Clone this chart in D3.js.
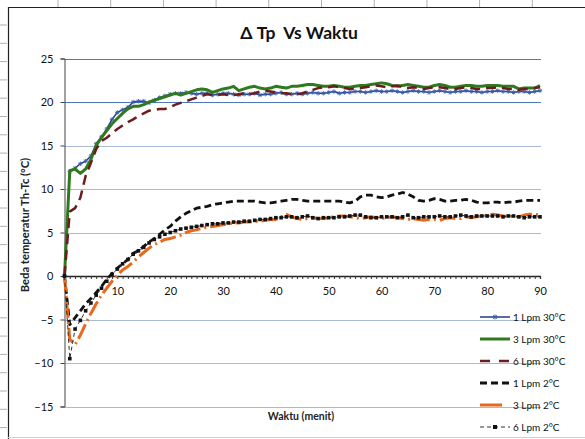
<!DOCTYPE html>
<html><head><meta charset="utf-8">
<script src="https://cdn.jsdelivr.net/npm/d3@7"></script>
<style>html,body{margin:0;padding:0;background:#fff;}svg{display:block;}</style>
</head><body>
<svg id="c" width="585" height="439"></svg>
<script>
// ---- data ----
const waktu = d3.range(0, 91, 1); // minutes
const lpm1_30 = [0,12.0,12.4,12.9,13.2,13.8,15.2,16.0,16.9,18.0,18.8,19.1,19.4,20.0,20.1,20.1,19.9,20.2,20.5,20.7,20.9,21.0,21.0,21.1,21.0,20.9,21.0,21.0,20.8,20.9,21.0,21.0,20.9,20.8,20.9,20.9,21.0,20.8,20.9,20.9,21.0,21.1,20.9,20.9,21.0,20.9,21.0,21.1,21.0,21.0,21.1,21.2,21.0,21.1,21.1,21.2,21.2,21.1,21.2,21.3,21.2,21.2,21.3,21.2,21.1,21.2,21.3,21.2,21.2,21.1,21.2,21.3,21.2,21.1,21.2,21.2,21.3,21.2,21.2,21.1,21.2,21.2,21.3,21.2,21.2,21.1,21.2,21.2,21.1,21.2,21.3];
const lpm3_30 = [0,12.1,12.3,11.8,12.3,13.4,15.0,15.9,16.7,17.5,18.1,18.7,19.2,19.5,19.5,19.7,20.0,20.2,20.4,20.6,20.8,21.0,20.8,21.0,21.2,21.4,21.5,21.4,21.1,21.3,21.5,21.6,21.8,21.3,21.5,21.7,21.8,21.6,21.5,21.6,21.8,21.7,21.6,21.8,21.8,21.9,22.0,22.0,21.9,21.8,21.8,21.9,21.8,21.7,21.7,21.8,21.9,21.9,22.0,22.1,22.2,22.1,21.9,21.8,21.9,22.0,21.9,21.8,21.7,21.7,21.9,22.0,21.9,21.7,21.7,21.8,21.9,21.9,21.8,21.8,21.9,21.9,21.9,21.8,21.8,21.8,21.5,21.6,21.6,21.6,21.9];
const lpm6_30 = [0,7.4,7.8,9.0,11.5,13.0,14.6,15.5,15.9,16.4,16.9,17.3,17.7,18.0,18.4,18.7,19.0,19.1,19.2,19.2,19.4,19.7,19.9,20.1,20.3,20.5,20.7,20.9,20.8,20.8,20.9,20.8,20.8,20.9,21.0,20.9,21.0,21.2,21.3,21.2,21.1,21.0,21.0,20.9,20.9,21.0,21.2,21.4,21.6,21.7,21.7,21.8,21.7,21.6,21.5,21.5,21.6,21.7,21.8,21.9,21.8,21.7,21.8,21.9,21.7,21.6,21.7,21.6,21.5,21.6,21.7,21.7,21.6,21.5,21.5,21.6,21.7,21.6,21.5,21.5,21.6,21.6,21.7,21.6,21.5,21.5,21.4,21.5,21.5,21.6,21.7];
const lpm1_2 = [0,-5.6,-4.8,-4.0,-3.2,-2.6,-1.9,-1.2,-0.4,0.3,0.9,1.4,1.9,2.6,2.9,3.4,3.9,4.3,4.8,5.3,5.7,6.3,6.8,7.2,7.5,7.8,7.9,8.0,8.2,8.3,8.4,8.5,8.6,8.6,8.6,8.6,8.6,8.5,8.4,8.4,8.5,8.6,8.7,8.8,8.8,8.7,8.6,8.6,8.6,8.6,8.6,8.6,8.6,8.5,8.4,8.6,9.1,9.3,9.3,9.1,9.0,9.1,9.3,9.4,9.6,9.4,9.1,8.7,8.6,8.7,8.9,8.8,8.6,8.6,8.7,8.7,8.8,8.7,8.5,8.4,8.4,8.5,8.5,8.4,8.5,8.5,8.6,8.7,8.7,8.7,8.7];
const lpm3_2 = [0,-7.3,-7.9,-6.8,-5.5,-4.3,-3.2,-2.2,-1.4,-0.6,0.1,0.7,1.1,1.6,2.2,2.7,3.2,3.6,3.9,4.2,4.3,4.5,4.7,5.0,5.2,5.3,5.5,5.6,5.7,5.8,5.9,6.0,6.1,6.1,6.2,6.2,6.3,6.3,6.4,6.5,6.5,6.8,7.1,6.8,6.6,6.5,6.6,6.7,6.6,6.6,6.7,6.8,6.9,6.9,6.8,6.7,6.6,6.7,6.8,6.7,6.6,6.7,6.8,6.7,6.6,6.5,6.6,6.5,6.4,6.5,6.5,6.4,6.6,6.7,6.6,6.6,6.8,6.7,6.8,6.9,7.0,7.1,7.0,6.9,6.8,6.9,6.8,7.0,7.1,7.1,7.0];
const lpm6_2 = [0,-9.5,-6.1,-5.1,-4.0,-3.1,-2.2,-1.4,-0.6,0.2,0.8,1.4,1.9,2.5,2.9,3.3,3.8,4.2,4.5,4.8,5.0,5.2,5.4,5.5,5.6,5.7,5.8,5.9,6.0,6.0,6.1,6.1,6.2,6.2,6.3,6.3,6.4,6.5,6.5,6.6,6.7,6.7,6.8,6.8,6.7,6.8,6.9,6.7,6.6,6.7,6.7,6.7,6.8,6.8,6.9,7.0,7.0,6.8,6.7,6.7,6.8,6.8,6.8,6.7,6.8,7.0,6.7,6.7,6.8,6.8,6.8,6.9,6.8,6.8,6.9,7.0,6.9,6.8,6.9,6.9,6.9,6.9,6.9,6.8,6.9,6.9,6.8,6.7,6.8,6.8,6.8];
const seriesNames = ["1 Lpm 30°C","3 Lpm 30°C","6 Lpm 30°C","1 Lpm 2°C","3 Lpm 2°C","6 Lpm 2°C"];
const yTicks = [-15,-10,-5,0,5,10,15,20,25];
const xTickLabels = [10,20,30,40,50,60,70,80,90];
const title = "Δ Tp  Vs Waktu";
const yTitle = "Beda temperatur Th-Tc (°C)";
const xTitle = "Waktu (menit)";

// ---- styles ----
const styles = [
  {color:"#1f3c80", width:1.5, dash:null, legDash:null, marker:"star"},
  {color:"#2f7a1f", width:3, dash:null, legDash:null, marker:null},
  {color:"#6b1c1c", width:2.5, dash:"10,6", legDash:"10,9", marker:null},
  {color:"#111111", width:2.8, dash:"7,4", legDash:"7,4", marker:null},
  {color:"#e8681c", width:3, dash:"16,4,2,4", legDash:null, marker:null},
  {color:"#333333", width:1, dash:"4,3", legDash:"4,3", marker:"square"}
];
const allSeries = [lpm1_30, lpm3_30, lpm6_30, lpm1_2, lpm3_2, lpm6_2];

const svg = d3.select("#c");
const font = "Lato, 'Open Sans', sans-serif";

// spreadsheet frame decorations
svg.append("rect").attr("width",585).attr("height",439).attr("fill","#fff");
svg.selectAll("line.ct").data(d3.range(58, 585, 52.7)).join("line")
  .attr("x1",d=>d).attr("x2",d=>d).attr("y1",0).attr("y2",7).attr("stroke","#b0b0b0");
svg.selectAll("line.rt").data(d3.range(25, 439, 18.3)).join("line")
  .attr("x1",0).attr("x2",7).attr("y1",d=>d).attr("y2",d=>d).attr("stroke","#b0b0b0");
svg.append("line").attr("x1",8).attr("x2",585).attr("y1",7.5).attr("y2",7.5).attr("stroke","#222").attr("stroke-width",1.2);
svg.append("line").attr("x1",8.5).attr("x2",8.5).attr("y1",7).attr("y2",439).attr("stroke","#222").attr("stroke-width",1.2);
svg.append("line").attr("x1",8).attr("x2",585).attr("y1",437.5).attr("y2",437.5).attr("stroke","#d0d0d0");

const x = d3.scaleLinear().domain([0,90]).range([64.5,540]);
const y = d3.scaleLinear().domain([-15,25]).range([406.5,58.5]);

// gridlines
svg.append("g").selectAll("line").data(yTicks.filter(v=>v!==0)).join("line")
  .attr("x1",x(0)).attr("x2",x(90)+1).attr("y1",d=>Math.round(y(d))+0.5).attr("y2",d=>Math.round(y(d))+0.5)
  .attr("stroke",d=>d>=20?"#4f78bc":"#a9bad8").attr("stroke-width",1.2);

// y axis
const yAxis = d3.axisLeft(y).tickValues(yTicks).tickSize(4).tickFormat(d3.format("d"));
const gy = svg.append("g").attr("transform",`translate(${x(0)},0)`).call(yAxis);
gy.select(".domain").attr("stroke","#444");
gy.selectAll(".tick line").attr("stroke","#444");
gy.selectAll(".tick text").attr("x",-11).attr("font-family",font).attr("font-size",11).attr("fill","#111");

// x axis at 0
const xAxis = d3.axisBottom(x).tickValues(d3.range(0,91,1)).tickSize(3).tickFormat(d=>xTickLabels.includes(d)?d:"");
const gx = svg.append("g").attr("transform",`translate(0,${y(0)})`).call(xAxis);
gx.select(".domain").attr("stroke","#222").attr("stroke-width",1.3);
gx.selectAll(".tick line").attr("stroke","#333");
gx.selectAll(".tick text").attr("y",11).attr("font-family",font).attr("font-size",11).attr("fill","#111");

// series
const line = d3.line().x((d,i)=>x(waktu[i])).y(d=>y(d));
allSeries.forEach((s,k)=>{
  const st = styles[k];
  svg.append("path").datum(s).attr("d",line).attr("fill","none")
    .attr("stroke",st.color).attr("stroke-width",st.width)
    .attr("stroke-dasharray",st.dash).attr("stroke-linejoin","round");
  if(st.marker==="star"){
    svg.append("g").selectAll("path").data(s).join("path")
      .attr("d",(d,i)=>{const cx=x(waktu[i]),cy=y(d),r=2.2;return `M${cx-r},${cy}H${cx+r}M${cx},${cy-r}V${cy+r}M${cx-1.6},${cy-1.6}L${cx+1.6},${cy+1.6}M${cx-1.6},${cy+1.6}L${cx+1.6},${cy-1.6}`;})
      .attr("stroke","#3a5cb0").attr("stroke-width",0.9).attr("fill","none");
  }
  if(st.marker==="square"){
    svg.append("g").selectAll("rect").data(s).join("rect")
      .attr("x",(d,i)=>x(waktu[i])-1.8).attr("y",d=>y(d)-1.8).attr("width",3.6).attr("height",3.6)
      .attr("fill","#111");
  }
});

// titles
svg.append("text").attr("x",299).attr("y",39).attr("text-anchor","middle").style("white-space","pre")
  .attr("font-family",font).attr("font-weight","bold").attr("font-size",17.5).attr("fill","#111").text(title);
svg.append("text").attr("transform","translate(29,225) rotate(-90)").attr("text-anchor","middle")
  .attr("font-family",font).attr("font-weight","bold").attr("font-size",11.2).attr("fill","#222").text(yTitle);
svg.append("text").attr("x",301).attr("y",420).attr("text-anchor","middle")
  .attr("font-family",font).attr("font-weight","bold").attr("font-size",10.5).attr("fill","#222").text(xTitle);

// legend
const legY = d3.range(0,6).map(i=>317+i*22);
seriesNames.forEach((name,k)=>{
  const st = styles[k], ly = legY[k];
  const x2 = k===4 ? 502 : 510;
  svg.append("line").attr("x1",480).attr("x2",x2).attr("y1",ly).attr("y2",ly)
    .attr("stroke",st.color).attr("stroke-width",st.width).attr("stroke-dasharray",st.legDash);
  if(st.marker==="star"){
    const cx=495,cy=ly,r=2.5;
    svg.append("path").attr("d",`M${cx-r},${cy}H${cx+r}M${cx},${cy-r}V${cy+r}M${cx-1.8},${cy-1.8}L${cx+1.8},${cy+1.8}M${cx-1.8},${cy+1.8}L${cx+1.8},${cy-1.8}`)
      .attr("stroke","#3a5cb0").attr("stroke-width",1).attr("fill","none");
  }
  if(st.marker==="square"){
    svg.append("rect").attr("x",493).attr("y",ly-2).attr("width",4).attr("height",4).attr("fill","#111");
  }
  svg.append("text").attr("x",513).attr("y",ly).attr("dy","0.35em")
    .attr("font-family",font).attr("font-size",10).attr("fill","#111").text(name);
});
</script>
</body></html>
